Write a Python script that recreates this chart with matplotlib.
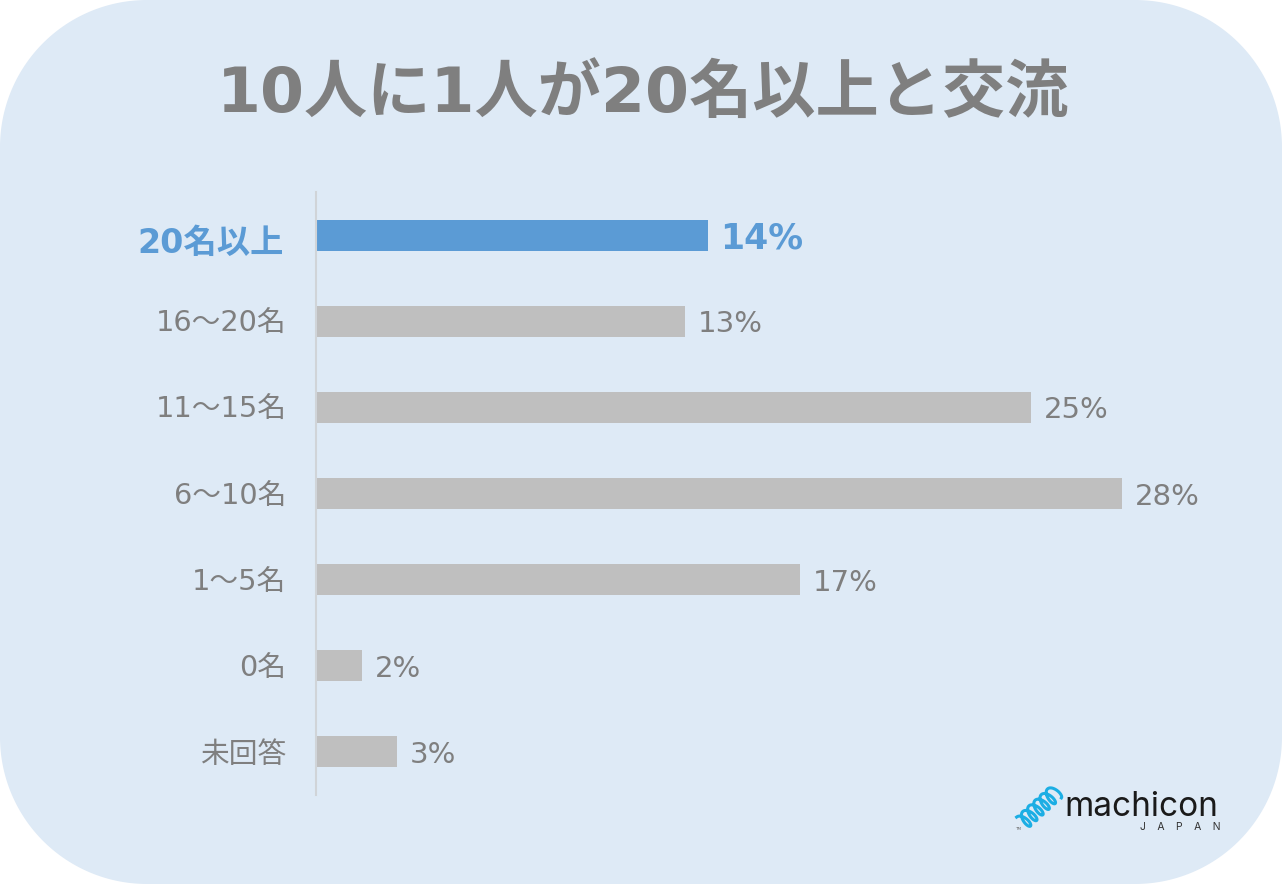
"""マチコン調査: 交流人数の横棒グラフ"""
import matplotlib
matplotlib.use('Agg')
import matplotlib.pyplot as plt
import numpy as np
from matplotlib.lines import Line2D
from matplotlib.patches import Polygon
from matplotlib.transforms import ScaledTranslation

plt.rcParams['font.family'] = ['DejaVu Sans', 'Noto Sans CJK JP']

W, H = 1282, 884

title = '10人に1人が20名以上と交流'
categories = ['20名以上', '16～20名', '11～15名', '6～10名', '1～5名', '0名', '未回答']
bar_values = [13.67, 12.87, 24.97, 28.15, 16.89, 1.57, 2.8]
value_labels = ['14%', '13%', '25%', '28%', '17%', '2%', '3%']

BG = '#DEEAF6'
BLUE = '#5B9BD5'
GREY = '#BFBFBF'
TEXT = '#7F7F7F'


def fx(px):
    return px / W


def fy(py):
    return 1 - py / H


fig = plt.figure(figsize=(W / 100, H / 100), dpi=100, facecolor='white')

# 角丸の背景（図全体の座標をピクセルで指定）
bg_ax = fig.add_axes([0, 0, 1, 1])
bg_ax.set_xlim(0, W)
bg_ax.set_ylim(H, 0)
bg_ax.axis('off')
r = 147
corners = [(W - r, r, -90), (W - r, H - r, 0), (r, H - r, 90), (r, r, 180)]
outline = []
for cx0, cy0, start in corners:
    a = np.radians(np.linspace(start, start + 90, 60))
    outline.append(np.column_stack([cx0 + r * np.cos(a), cy0 + r * np.sin(a)]))
bg_ax.add_patch(Polygon(np.vstack(outline), closed=True, facecolor=BG, edgecolor='none'))

fig.text(fx(643), fy(94), title, fontsize=45.5, fontweight='bold', color=TEXT,
         ha='center', va='center')

# 棒グラフ本体
left, right, top, bottom = 317, 1282, 192, 795
ax = fig.add_axes([fx(left), fy(bottom), fx(right - left), (bottom - top) / H])
ax.patch.set_alpha(0)
y = np.arange(len(categories))
colors = [BLUE] + [GREY] * (len(categories) - 1)
bars = ax.barh(y, bar_values, height=0.36, color=colors)
ax.set_xlim(0, (right - left) / 28.6)
ax.set_ylim(len(categories) - 0.5, -0.5)
ax.set_xticks([])
ax.set_yticks(y, labels=categories)
ax.tick_params(axis='y', length=0, pad=21, labelsize=20.7, labelcolor=TEXT)
for side in ('top', 'right', 'bottom'):
    ax.spines[side].set_visible(False)
ax.spines['left'].set_color('#D0D4D8')
ax.spines['left'].set_linewidth(1.5)
ax.spines['left'].set_position(('outward', 1))

# 強調する先頭ラベルは少し下にずらす
first = ax.get_yticklabels()[0]
first.set_color(BLUE)
first.set_fontweight('bold')
first.set_fontsize(24)
first.set_transform(first.get_transform()
                    + ScaledTranslation(-1.5 / 72, -3.6 / 72, fig.dpi_scale_trans))

for i, (bar, label) in enumerate(zip(bars, value_labels)):
    bold = i == 0
    ax.annotate(label, (bar.get_width(), bar.get_y() + bar.get_height() / 2),
                xytext=(9, -2.2), textcoords='offset points', va='center',
                fontsize=25 if bold else 21,
                fontweight='bold' if bold else 'normal',
                color=BLUE if bold else TEXT)

# ロゴ
t = np.linspace(0, 1, 400)
theta = 2 * np.pi * 5.5 * t
start_pt = np.array([1022, 823])
end_pt = np.array([1056, 792])
axis_dir = (end_pt - start_pt) / np.linalg.norm(end_pt - start_pt)
normal = np.array([axis_dir[1], -axis_dir[0]])
coil = (start_pt + np.outer(t, end_pt - start_pt)
        + np.outer(8 * np.cos(theta), normal) + np.outer(4 * np.sin(theta), axis_dir))
bg_ax.add_line(Line2D(coil[:, 0], coil[:, 1], color='#1CAEE4', lw=2.2))
fig.text(fx(1018), fy(829), 'TM', fontsize=3, color='#666666', ha='center', va='center')
fig.text(fx(1064), fy(807), 'machicon', fontsize=24, family='Inter', color='#1A1A1A',
         ha='left', va='center')
fig.text(fx(1221), fy(827), 'J    A    P    A    N', fontsize=7.5, family='Inter',
         color='#333333', ha='right', va='center')

fig.savefig('out.png', dpi=100, facecolor='white')
plt.close(fig)
